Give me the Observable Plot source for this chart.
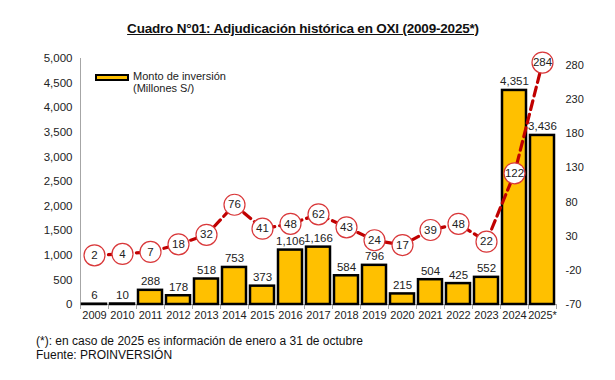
<!DOCTYPE html>
<html>
<head>
<meta charset="utf-8">
<script src="https://cdn.jsdelivr.net/npm/d3@7"></script>
<script src="https://cdn.jsdelivr.net/npm/@observablehq/plot@0.6"></script>
<style>
  body { margin: 0; background: #fff; font-family: "Liberation Sans", Arial, sans-serif; }
  #wrap { position: relative; width: 615px; height: 380px; overflow: hidden; }
  #title { position: absolute; left: 0; top: 21px; width: 606px; text-align: center; font-weight: bold; font-size: 13.5px; color: #111; text-decoration: underline; letter-spacing: -0.2px; }
  #chart { position: absolute; left: 0; top: 45px; }
  #legend { position: absolute; left: 95px; top: 70px; font-size: 11px; color: #222; line-height: 12px; }
  #legend .sw { position: absolute; left: 0; top: 4px; width: 30px; height: 3px; background: #FFC000; border: 2px solid #000; }
  #legend .tx { position: absolute; left: 38px; top: 0; white-space: nowrap; }
  #foot { position: absolute; left: 36px; top: 334px; font-size: 12px; color: #111; line-height: 14px; }
</style>
</head>
<body>
<div id="wrap">
  <div id="title">Cuadro N°01: Adjudicación histórica en OXI (2009-2025*)</div>
  <div id="chart"></div>
  <div id="legend"><div class="sw"></div><div class="tx">Monto de inversión<br>(Millones S/)</div></div>
  <div id="foot">(*): en caso de 2025 es información de enero a 31 de octubre<br>Fuente: PROINVERSIÓN</div>
</div>
<script>
const years = ["2009","2010","2011","2012","2013","2014","2015","2016","2017","2018","2019","2020","2021","2022","2023","2024","2025*"];
const montos = [6,10,288,178,518,753,373,1106,1166,584,796,215,504,425,552,4351,3436];
const proyectos = [2,4,7,18,32,76,41,48,62,43,24,17,39,48,22,122,284];
const leftTicks = [0,500,1000,1500,2000,2500,3000,3500,4000,4500,5000];
const rightTicks = [-70,-20,30,80,130,180,230,280];

const L_MAX = 5000, R_MIN = -70, R_MAX = 290;
const toLeft = v => (v - R_MIN) / (R_MAX - R_MIN) * L_MAX;
const fromLeft = v => v / L_MAX * (R_MAX - R_MIN) + R_MIN;

const data = years.map((y, i) => ({year: y, monto: montos[i], proy: proyectos[i]}));

const plot = Plot.plot({
  width: 615,
  height: 285,
  marginTop: 13,
  marginBottom: 26,
  marginLeft: 80,
  marginRight: 59,
  style: {fontFamily: "Liberation Sans, Arial, sans-serif", fontSize: "11px", color: "#222", background: "transparent"},
  x: {domain: years, paddingInner: 0.15, paddingOuter: 0.05, label: null},
  y: {domain: [0, L_MAX], label: null},
  marks: [
    Plot.ruleY([0], {stroke: "#a6a6a6", strokeWidth: 1}),
    Plot.frame({anchor: "left", stroke: "#a6a6a6"}),
    Plot.ruleX(data, {x: "year", dx: -14, y1: 0, y2: 0, insetBottom: -5, stroke: "#a6a6a6"}),
    Plot.ruleX([years[years.length - 1]], {x: d => d, dx: 14, y1: 0, y2: 0, insetBottom: -5, stroke: "#a6a6a6"}),
    Plot.barY(data, {x: "year", y: "monto", fill: "#FFC000", stroke: "#000", strokeWidth: 2.5}),
    Plot.text(data, {x: "year", y: "monto", text: d => d3.format(",")(d.monto), lineAnchor: "bottom", dy: -5, fontSize: 11.5, fill: "#222"}),
    Plot.line(data, {x: "year", y: d => toLeft(d.proy), stroke: "#C00000", strokeWidth: 3.2, strokeDasharray: "9,5"}),
    Plot.dot(data, {x: "year", y: d => toLeft(d.proy), r: 10.5, fill: "#fff", stroke: "#d9383a", strokeWidth: 1.2}),
    Plot.text(data, {x: "year", y: d => toLeft(d.proy), text: d => String(d.proy), fontSize: 11.5, fill: "#222"}),
    Plot.axisY({ticks: leftTicks, tickFormat: d3.format(","), tickSize: 0, tickPadding: 8, fontSize: 11.5, color: "#222", label: null}),
    Plot.axisY({anchor: "right", ticks: rightTicks.map(toLeft), tickFormat: d => String(Math.round(fromLeft(d))), tickSize: 0, tickPadding: 9, fontSize: 11, color: "#222", label: null}),
    Plot.axisX({tickSize: 0, tickPadding: 7, fontSize: 11, color: "#222", label: null})
  ]
});
document.getElementById("chart").appendChild(plot);
</script>
</body>
</html>
